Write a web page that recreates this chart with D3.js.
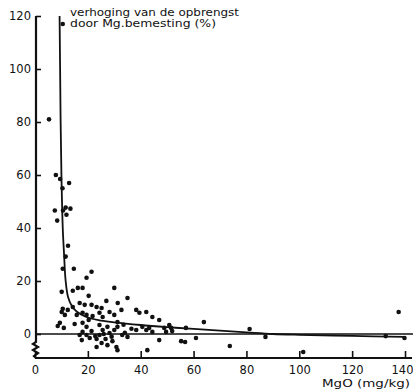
<!DOCTYPE html>
<html>
<head>
<meta charset="utf-8">
<script src="https://cdn.jsdelivr.net/npm/d3@7"></script>
<style>
  body { margin: 0; background: #fff; }
  svg { display: block; }
  text { font-family: "DejaVu Sans", sans-serif; fill: #111; }
  .tick line { stroke: #111; stroke-width: 1.6; }
</style>
</head>
<body>
<figure id="scatter" style="margin:0"></figure>
<script>
// tick labels
const xTicks = [0, 20, 40, 60, 80, 100, 120, 140];
const yTicks = [0, 20, 40, 60, 80, 100, 120];
const titleLines = ["verhoging van de opbrengst", "door Mg.bemesting (%)"];
const xTitle = "MgO (mg/kg)";

// measured points: MgO (mg/kg) and yield increase (%)
const mgo = [10.5, 5.3, 7.9, 9.5, 12.9, 10.4, 7.5, 10.6, 11.6, 13.4, 8.4, 11.9, 12.5, 11.6, 10.5, 14.7,
  21.4, 19.5, 10.1, 14.3, 16.2, 18, 30, 20.3, 16.9, 18.8, 21.4, 23.3, 27, 31.3, 35, 10.5, 10.1, 11.3,
  12.4, 15.8, 18, 19.5, 20.3, 21.8, 24.4, 25.6, 28.2, 30, 32.7, 31.2, 8.6, 10.9, 15, 18, 19.5, 18,
  16.9, 19.5, 21.4, 24.4, 25.6, 27.4, 24.4, 28.2, 30, 31.2, 33, 35, 17.7, 20.7, 23.3, 26.7, 29.3,
  25.2, 23.3, 27.4, 30.8, 31.2, 38.3, 38.3, 25.2, 14.3, 9.4, 39.5, 42.1, 44.4, 47, 40.6, 42.1, 43.2,
  44.4, 50.8, 51.5, 47, 42.5, 48.9, 49.6, 51.9, 57.1, 63.9, 55.3, 56.8, 60.9, 73.7, 81.2, 87.2,
  101.5, 137.6, 132.7, 139.8, 26, 29, 33.5, 34, 36.5, 22.8];
const increase = [117, 81, 60, 58.5, 57, 55, 46.6, 46.6, 47.7, 47.3, 42.8, 45, 33.3, 29.2, 24.6, 24.6,
  23.5, 21.2, 15.9, 16.3, 17.4, 17.4, 17.4, 14.4, 11.7, 11, 11, 10.2, 12.5, 11.7, 13.6, 9.5, 8.3, 7.2,
  9.1, 7.2, 8, 7.2, 5.3, 6.8, 8, 6.4, 8.3, 7.2, 9.1, 4.5, 3, 2.3, 3.8, 4.2, 2.7, 0.8,
  -0.4, -0.4, 1.1, 3.4, 1.5, 2.7, -0.4, 0.4, 1.5, 2.7, -0.4, -1.1, -2.3, -1.5, -1.9, -1.9, -2.7,
  -3.4, -4.9, -4.2, -4.9, -6.1, 1.5, 9.1, 9.8, 10.2, 4.2, 8, 8.3, 6.4, 5.3, 2.7, 1.5, 2.3,
  0.8, 3.4, 2.3, -2.3, -6.1, 2.3, 0.8, 1.1, 2.3, 4.5, -2.7, -3, -1.5, -4.5, 1.9, -1.1,
  -6.8, 8.3, -0.8, -1.5, 0, -1, 3.5, 0.5, 2, -0.8];

// fitted curve
const curveX = [9.3, 9.5, 9.7, 10.0, 10.5, 11.0, 11.6, 12.5, 14, 16, 19, 24, 30, 40, 50, 60, 80, 90, 100, 120, 140];
const curveY = [120, 100, 80, 60, 40, 30, 20, 14, 10.5, 8.3, 6.6, 5.2, 4.4, 3.4, 2.6, 1.9, 0.6, 0, -0.3, -0.7, -1.1];

const width = 413, height = 390;
const svg = d3.select("figure#scatter").append("svg")
  .attr("width", width)
  .attr("height", height);

const x = d3.scaleLinear().domain([0, 140]).range([35, 405]);
const y = d3.scaleLinear().domain([0, 120]).range([334, 16]);
const axisY = 358; // bottom axis, drawn below a broken y axis

// y axis: ticks point inwards, labels on the left
svg.append("g")
  .attr("transform", `translate(${x(0) + 1},0)`)
  .call(d3.axisLeft(y).tickValues(yTicks).tickSizeInner(-5).tickSizeOuter(0).tickPadding(5))
  .call(g => g.select(".domain").remove())
  .selectAll("text")
  .attr("font-size", "11.5px");

// y axis line with the break below zero
const yx = x(0) + 1;
svg.append("path")
  .attr("d", d3.line().curve(d3.curveLinear)([
    [yx, y(120)], [yx, y(0) + 8], [yx - 3, y(0) + 10], [yx + 2, y(0) + 13], [yx - 3, y(0) + 16],
    [yx + 2, y(0) + 19], [yx - 2, axisY - 2], [yx, axisY]
  ]))
  .attr("fill", "none")
  .attr("stroke", "#111")
  .attr("stroke-width", 2.2);

// x axis
svg.append("g")
  .attr("transform", `translate(0,${axisY})`)
  .call(d3.axisBottom(x).tickValues(xTicks).tickSizeInner(-7).tickSizeOuter(0).tickPadding(8))
  .call(g => g.select(".domain").remove())
  .selectAll("text")
  .attr("font-size", "11.5px")
  .attr("dx", d => d === 140 ? "-3" : null);

svg.append("line")
  .attr("x1", x(0)).attr("x2", 412)
  .attr("y1", axisY).attr("y2", axisY)
  .attr("stroke", "#111")
  .attr("stroke-width", 2);

// zero line
svg.append("line")
  .attr("x1", x(0)).attr("x2", width)
  .attr("y1", y(0)).attr("y2", y(0))
  .attr("stroke", "#111")
  .attr("stroke-width", 1.6);

// fitted curve
const curvePts = curveX.map((d, i) => [x(d), y(curveY[i])]);
svg.append("path")
  .attr("d", d3.line().curve(d3.curveCatmullRom.alpha(0.5))(curvePts))
  .attr("fill", "none")
  .attr("stroke", "#111")
  .attr("stroke-width", 1.8);

// points
svg.append("g")
  .selectAll("circle")
  .data(mgo.map((d, i) => ({ mgo: d, inc: increase[i] })))
  .enter()
  .append("circle")
  .attr("cx", d => x(d.mgo))
  .attr("cy", d => y(d.inc))
  .attr("r", 2.3)
  .attr("fill", "#111");

// titles
svg.selectAll("text.title")
  .data(titleLines)
  .enter()
  .append("text")
  .attr("class", "title")
  .attr("x", 70)
  .attr("y", (d, i) => 16 + i * 11)
  .attr("font-size", "10.5px")
  .attr("textLength", (d, i) => i === 0 ? 169 : 146)
  .attr("lengthAdjust", "spacingAndGlyphs")
  .text(d => d);

svg.append("text")
  .attr("x", 322)
  .attr("y", 387)
  .attr("font-size", "11px")
  .attr("textLength", 88)
  .attr("lengthAdjust", "spacingAndGlyphs")
  .text(xTitle);
</script>
</body>
</html>
